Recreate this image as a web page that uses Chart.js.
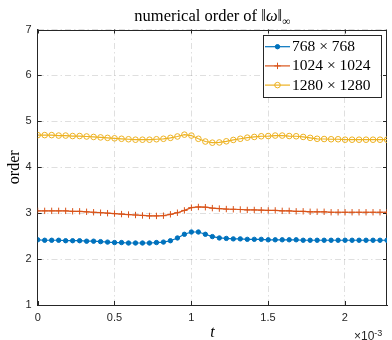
<!DOCTYPE html>
<html><head><meta charset="utf-8">
<script src="https://cdn.jsdelivr.net/npm/chart.js@4/dist/chart.umd.min.js"></script>
<style>html,body{margin:0;padding:0;background:#fff}canvas{display:block}</style>
</head><body>
<canvas id="c" width="392" height="340"></canvas>
<script>
// time samples (units of 1e-3)
const tValues = [0,0.0455,0.091,0.1365,0.182,0.2275,0.273,0.3185,0.364,0.4095,0.455,0.5005,0.546,0.5915,0.637,0.6825,0.728,0.7735,0.819,0.8645,0.91,0.9555,1.001,1.0465,1.092,1.1375,1.183,1.2285,1.274,1.3195,1.365,1.4105,1.456,1.5015,1.547,1.5925,1.638,1.6835,1.729,1.7745,1.82,1.8655,1.911,1.9565,2.002,2.0475,2.093,2.1385,2.184,2.2295,2.275];
const order768 = [2.42,2.41,2.41,2.41,2.40,2.40,2.40,2.39,2.39,2.38,2.37,2.36,2.36,2.35,2.35,2.35,2.35,2.36,2.37,2.40,2.46,2.54,2.59,2.59,2.54,2.49,2.46,2.45,2.44,2.44,2.43,2.43,2.43,2.42,2.42,2.42,2.42,2.42,2.41,2.41,2.41,2.41,2.41,2.41,2.41,2.41,2.41,2.41,2.41,2.41,2.41];
const order1024 = [3.05,3.05,3.05,3.05,3.05,3.04,3.04,3.03,3.02,3.01,3.00,2.99,2.98,2.97,2.96,2.95,2.94,2.94,2.945,2.975,3.01,3.06,3.12,3.135,3.13,3.11,3.10,3.09,3.085,3.08,3.07,3.07,3.065,3.06,3.06,3.05,3.05,3.04,3.04,3.03,3.03,3.03,3.02,3.02,3.02,3.02,3.02,3.02,3.02,3.02,3.02];
const order1280 = [4.70,4.70,4.70,4.69,4.69,4.68,4.68,4.67,4.66,4.65,4.64,4.63,4.62,4.61,4.60,4.60,4.60,4.61,4.62,4.64,4.67,4.71,4.69,4.62,4.56,4.535,4.54,4.565,4.595,4.62,4.645,4.66,4.675,4.68,4.69,4.69,4.68,4.675,4.66,4.64,4.62,4.615,4.61,4.61,4.60,4.60,4.60,4.60,4.60,4.60,4.60];
const seriesLabels = ['768 \u00d7 768', '1024 \u00d7 1024', '1280 \u00d7 1280'];
const xTicks = [0, 0.5, 1, 1.5, 2];
const yTicks = [1, 2, 3, 4, 5, 6, 7];

const toXY = arr => arr.map((v, i) => ({x: tValues[i], y: v}));
const TXT = '#262626';
const SERIF = '"Liberation Serif", "Times New Roman", serif';

const overlay = {
  id: 'overlay',
  beforeDatasetsDraw(chart) {
    const {ctx, chartArea: a, scales: {x, y}} = chart;
    ctx.save();
    ctx.strokeStyle = TXT; ctx.lineWidth = 1;
    ctx.beginPath();
    ctx.moveTo(a.left, Math.round(a.top) + 0.5); ctx.lineTo(a.right, Math.round(a.top) + 0.5);
    ctx.moveTo(Math.round(a.right) - 0.5, a.top); ctx.lineTo(Math.round(a.right) - 0.5, a.bottom);
    const L = 4;
    x.ticks.forEach(t => {
      const px = Math.round(x.getPixelForValue(t.value)) + 0.5;
      ctx.moveTo(px, a.bottom); ctx.lineTo(px, a.bottom - L);
      ctx.moveTo(px, a.top); ctx.lineTo(px, a.top + L);
    });
    y.ticks.forEach(t => {
      const py = Math.round(y.getPixelForValue(t.value)) + 0.5;
      ctx.moveTo(a.left, py); ctx.lineTo(a.left + L, py);
      ctx.moveTo(a.right, py); ctx.lineTo(a.right - L, py);
    });
    ctx.stroke();
    ctx.restore();
  },
  afterDatasetsDraw(chart) {
    const {ctx, chartArea: a} = chart;
    ctx.save();
    const bx = a.right - 124.5, by = a.top + 5.5, bw = 117.5, bh = 62;
    ctx.fillStyle = '#fff';
    ctx.fillRect(bx, by, bw, bh);
    ctx.strokeStyle = TXT; ctx.lineWidth = 1;
    ctx.strokeRect(Math.round(bx) + 0.5, Math.round(by) + 0.5, Math.round(bw), Math.round(bh));
    ctx.font = '15.5px ' + SERIF;
    ctx.textBaseline = 'middle';
    chart.data.datasets.forEach((ds, i) => {
      const yy = by + 11.7 + i * 19.2;
      const x0 = bx + 2.5, x1 = bx + 27.5;
      ctx.strokeStyle = ds.borderColor; ctx.lineWidth = ds.borderWidth;
      ctx.beginPath(); ctx.moveTo(x0, yy); ctx.lineTo(x1, yy); ctx.stroke();
      ctx.fillStyle = ds.pointBackgroundColor; ctx.strokeStyle = ds.pointBorderColor;
      ctx.lineWidth = ds.pointBorderWidth;
      Chart.helpers.drawPoint(ctx, {
        pointStyle: ds.pointStyle, radius: ds.pointRadius, rotation: 0,
        borderWidth: ds.pointBorderWidth
      }, (x0 + x1) / 2, yy);
      ctx.fillStyle = '#000';
      ctx.fillText(ds.label, bx + 29.5, yy + 0.5);
    });
    ctx.restore();
  },
  afterDraw(chart) {
    const {ctx, chartArea: a} = chart;
    const cx = (a.left + a.right) / 2;
    ctx.save();
    ctx.fillStyle = '#000';
    ctx.textBaseline = 'alphabetic';
    const segs = [
      {t: 'numerical order of ', f: '16.5px ' + SERIF, dy: 0},
      {t: '\u2016', f: '16.5px ' + SERIF, dy: 0},
      {t: '\u03c9', f: 'italic 16.5px ' + SERIF, dy: 0},
      {t: '\u2016', f: '16.5px ' + SERIF, dy: 0},
      {t: '\u221e', f: '11.5px ' + SERIF, dy: 3.5}
    ];
    let w = 0;
    segs.forEach(s => { ctx.font = s.f; s.w = ctx.measureText(s.t).width; w += s.w; });
    let xx = cx - w / 2;
    segs.forEach(s => { ctx.font = s.f; ctx.textAlign = 'left'; ctx.fillText(s.t, xx, 21 + s.dy); xx += s.w; });
    ctx.font = 'italic 16px ' + SERIF;
    ctx.textAlign = 'center';
    ctx.fillText('t', cx, 336.5);
    ctx.save();
    ctx.translate(19, (a.top + a.bottom) / 2);
    ctx.rotate(-Math.PI / 2);
    ctx.font = '16px ' + SERIF;
    ctx.textAlign = 'center';
    ctx.fillText('order', 0, 0);
    ctx.restore();
    ctx.fillStyle = TXT;
    ctx.textAlign = 'left';
    ctx.font = '12px "Liberation Sans", Arial, sans-serif';
    const ex = a.right - 33;
    ctx.fillText('\u00d710', ex, 340);
    const w10 = ctx.measureText('\u00d710').width;
    ctx.font = '9px "Liberation Sans", Arial, sans-serif';
    ctx.fillText('-3', ex + w10, 335.5);
    ctx.restore();
  }
};

const tickFont = {family: '"Liberation Sans", Arial, sans-serif', size: 11};
const gridColor = 'rgba(38,38,38,0.15)';

new Chart(document.getElementById('c'), {
  type: 'line',
  data: {
    datasets: [
      {label: seriesLabels[0], data: toXY(order768), borderColor: '#0072BD', backgroundColor: '#0072BD',
       pointBackgroundColor: '#0072BD', pointBorderColor: '#0072BD', pointStyle: 'circle', pointRadius: 2.2,
       pointBorderWidth: 1, borderWidth: 1.2},
      {label: seriesLabels[1], data: toXY(order1024), borderColor: '#D95319', backgroundColor: '#D95319',
       pointBackgroundColor: '#D95319', pointBorderColor: '#D95319', pointStyle: 'cross', pointRadius: 3.2,
       pointBorderWidth: 1, borderWidth: 1.2},
      {label: seriesLabels[2], data: toXY(order1280), borderColor: '#EDB120', backgroundColor: '#EDB120',
       pointBackgroundColor: 'rgba(255,255,255,0)', pointBorderColor: '#EDB120', pointStyle: 'circle', pointRadius: 2.8,
       pointBorderWidth: 1, borderWidth: 1.2}
    ]
  },
  options: {
    responsive: false,
    animation: false,
    devicePixelRatio: 1,
    layout: {padding: {left: 0, right: 1.3, top: 29.5, bottom: 0}},
    plugins: {legend: {display: false}, title: {display: false}, tooltip: {enabled: false}},
    elements: {line: {tension: 0}},
    scales: {
      x: {
        type: 'linear', min: 0, max: 2.275,
        afterBuildTicks: s => { s.ticks = xTicks.map(v => ({value: v})); },
        afterFit: s => { s.height = 35; },
        ticks: {color: TXT, font: tickFont, padding: 6, maxRotation: 0, callback: v => String(v)},
        grid: {color: gridColor, drawTicks: false, lineWidth: 1},
        border: {display: true, color: TXT, width: 1, dash: [6, 3, 1.5, 3]}
      },
      y: {
        type: 'linear', min: 1, max: 7,
        afterBuildTicks: s => { s.ticks = yTicks.map(v => ({value: v})); },
        afterFit: s => { s.width = 37.7; },
        ticks: {color: TXT, font: tickFont, padding: 6, callback: v => String(v)},
        grid: {color: gridColor, drawTicks: false, lineWidth: 1},
        border: {display: true, color: TXT, width: 1, dash: [6, 3, 1.5, 3]}
      }
    }
  },
  plugins: [overlay]
});
</script>
</body></html>
